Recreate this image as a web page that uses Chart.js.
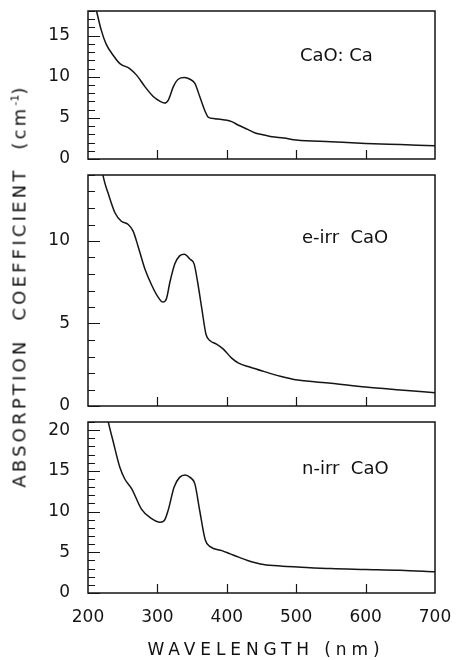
<!DOCTYPE html>
<html>
<head>
<meta charset="utf-8">
<script src="https://cdn.jsdelivr.net/npm/chart.js@4/dist/chart.umd.min.js"></script>
<style>
  html, body { margin: 0; padding: 0; background: #fff; }
  #page { position: relative; width: 459px; height: 660px; overflow: hidden; font-family: 'DejaVu Sans', sans-serif; color: #111; }
  .panel { position: absolute; left: 0; width: 459px; }
  .label { position: absolute; font-size: 18px; line-height: 18px; white-space: pre; }
  #ytitle { position: absolute; left: 19px; top: 286px; font-size: 18px; letter-spacing: 3.2px; white-space: pre; transform: translate(-50%, -50%) rotate(-90deg); }
  #ytitle sup { font-size: 11px; letter-spacing: 0; }
  #xtitle { position: absolute; left: 266px; top: 649px; font-size: 17px; letter-spacing: 4.9px; white-space: pre; transform: translate(-50%, -50%); }
</style>
</head>
<body>
<div id="page">
  <div class="panel" style="top:0"><canvas id="c1" width="459" height="170"></canvas></div>
  <div class="panel" style="top:170px"><canvas id="c2" width="459" height="246"></canvas></div>
  <div class="panel" style="top:416px"><canvas id="c3" width="459" height="244"></canvas></div>
  <div class="label" style="left:300px; top:46px">CaO: Ca</div>
  <div class="label" style="left:302px; top:228px">e-irr  CaO</div>
  <div class="label" style="left:302px; top:459px">n-irr  CaO</div>
  <div id="ytitle">ABSORPTION  COEFFICIENT  (cm<sup>-1</sup>)</div>
  <div id="xtitle">WAVELENGTH (nm)</div>
</div>
<script>
// wavelength (nm) / absorption coefficient (cm-1)
const xTicks = [200, 300, 400, 500, 600, 700]

const caCaWave = [208, 212, 219, 226, 236, 246, 260, 270, 282, 294, 304, 310, 316, 323, 330, 339, 347, 354, 361, 369, 373, 383, 397, 407, 417, 430, 440, 452, 465, 482, 500, 550, 600, 650, 700]
const caCaAbs = [19.5, 18.1, 15.7, 14.0, 12.65, 11.6, 11.0, 10.2, 8.8, 7.6, 7.0, 6.8, 7.2, 8.8, 9.7, 9.9, 9.7, 9.2, 7.6, 5.75, 5.1, 4.9, 4.75, 4.55, 4.1, 3.6, 3.2, 2.95, 2.7, 2.55, 2.3, 2.1, 1.9, 1.75, 1.6]
const caCaTicks = [0, 5, 10, 15]

const eIrrWave = [218, 222, 229, 239, 248, 258, 265, 272, 282, 292, 301, 308, 313, 318, 325, 332, 339, 347, 353, 358, 364, 370, 376, 385, 395, 407, 417, 434, 453, 477, 502, 550, 600, 650, 700]
const eIrrAbs = [15.0, 13.9, 12.9, 11.7, 11.2, 11.0, 10.6, 9.7, 8.3, 7.3, 6.6, 6.3, 6.5, 7.5, 8.6, 9.1, 9.2, 8.9, 8.6, 7.5, 5.9, 4.35, 3.95, 3.75, 3.45, 2.9, 2.6, 2.35, 2.1, 1.8, 1.57, 1.38, 1.15, 0.97, 0.8]
const eIrrTicks = [0, 5, 10]

const nIrrWave = [226, 229, 236, 246, 253, 263, 277, 289, 304, 310, 316, 324, 332, 340, 347, 354, 361, 369, 376, 393, 405, 417, 430, 453, 480, 502, 550, 600, 650, 700]
const nIrrAbs = [22.5, 21.1, 18.7, 15.4, 14.0, 12.8, 10.3, 9.3, 8.7, 8.9, 10.3, 13.0, 14.2, 14.5, 14.2, 13.4, 10.1, 6.5, 5.7, 5.2, 4.8, 4.4, 4.0, 3.5, 3.3, 3.2, 3.0, 2.9, 2.8, 2.6]
const nIrrTicks = [0, 5, 10, 15, 20]

const INK = '#151515'
const FONT = { family: "'DejaVu Sans', sans-serif", size: 17 }

// frame round the plot area plus inward ticks (minor every 1 unit on y)
const frameTicks = {
  id: 'frameTicks',
  afterDatasetsDraw(chart) {
    const { ctx, chartArea: a, scales: { x, y } } = chart
    ctx.save()
    ctx.strokeStyle = INK
    ctx.lineWidth = 1.5
    ctx.strokeRect(a.left, a.top, a.right - a.left, a.bottom - a.top)
    ctx.beginPath()
    for (let v = y.min; v <= y.max; v++) {
      const py = Math.round(y.getPixelForValue(v)) + 0.5
      ctx.moveTo(a.left, py)
      ctx.lineTo(a.left + (v % 5 === 0 ? 12 : 7), py)
    }
    xTicks.slice(1, -1).forEach(v => {
      const px = Math.round(x.getPixelForValue(v)) + 0.5
      ctx.moveTo(px, a.bottom)
      ctx.lineTo(px, a.bottom - 9)
    })
    ctx.lineWidth = 1.2
    ctx.stroke()
    ctx.restore()
  }
}

function panel(id, wave, abs, yMax, yTicks, pad, showX) {
  new Chart(document.getElementById(id), {
    type: 'line',
    data: {
      datasets: [{
        data: wave.map((w, i) => ({ x: w, y: abs[i] })),
        borderColor: INK,
        borderWidth: 1.5,
        pointRadius: 0,
        cubicInterpolationMode: 'monotone',
        clip: 0,
      }]
    },
    options: {
      responsive: false,
      animation: false,
      devicePixelRatio: 1,
      layout: { padding: { top: pad.top, bottom: pad.bottom, right: 24, left: 0 } },
      plugins: { legend: { display: false }, tooltip: { enabled: false } },
      scales: {
        x: {
          type: 'linear',
          min: 200,
          max: 700,
          display: showX,
          grid: { display: false },
          border: { display: false },
          afterBuildTicks: s => { s.ticks = xTicks.map(v => ({ value: v })) },
          afterFit: s => { if (showX) s.height = 67 },
          ticks: { color: INK, font: FONT, padding: 6, maxRotation: 0 },
        },
        y: {
          min: 0,
          max: yMax,
          grid: { display: false },
          border: { display: false },
          afterBuildTicks: s => { s.ticks = yTicks.map(v => ({ value: v })) },
          afterFit: s => { s.width = 88; s.paddingTop = 0; s.paddingBottom = 0 },
          ticks: { color: INK, font: FONT, padding: 10 },
        }
      }
    },
    plugins: [frameTicks]
  })
}

panel('c1', caCaWave, caCaAbs, 18, caCaTicks, { top: 11, bottom: 11 }, false)
panel('c2', eIrrWave, eIrrAbs, 14, eIrrTicks, { top: 5, bottom: 10 }, false)
panel('c3', nIrrWave, nIrrAbs, 21, nIrrTicks, { top: 6, bottom: 0 }, true)
</script>
</body>
</html>
